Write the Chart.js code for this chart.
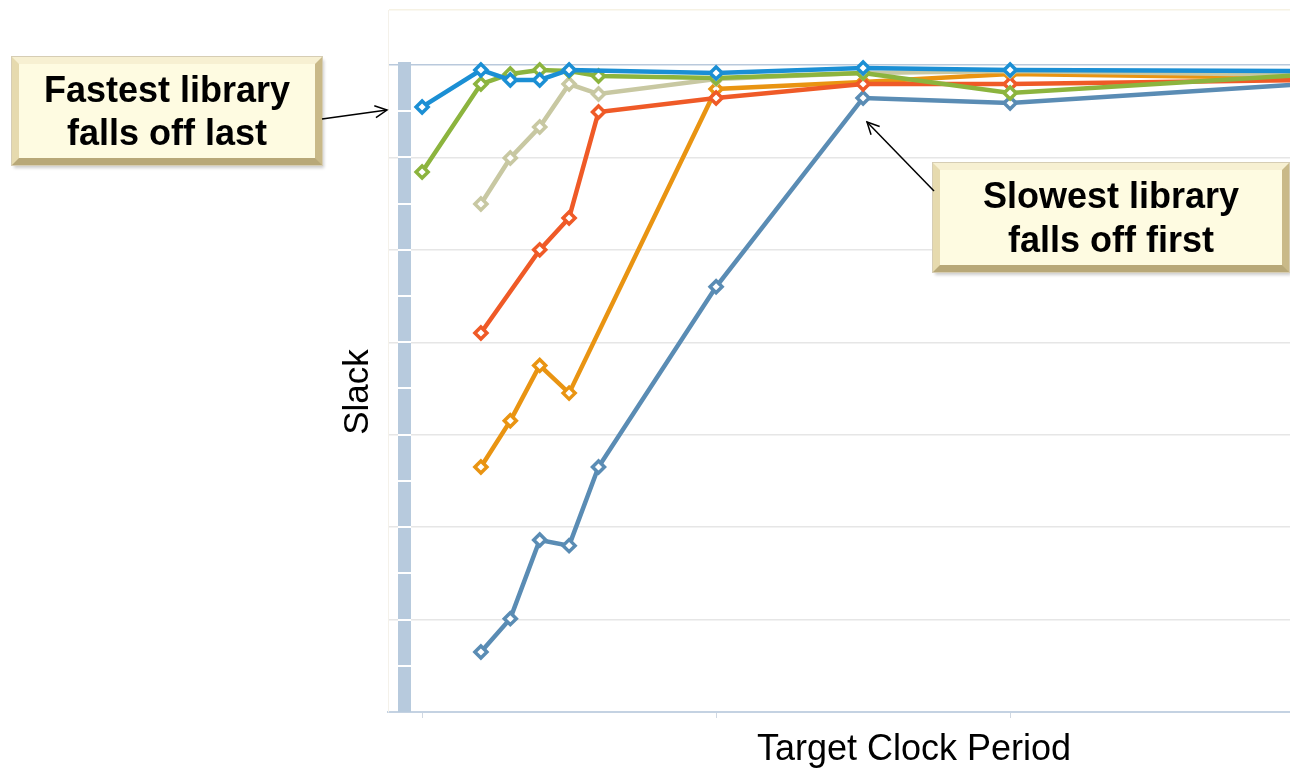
<!DOCTYPE html>
<html>
<head>
<meta charset="utf-8">
<script src="https://cdn.jsdelivr.net/npm/chart.js@4"></script>
<style>
    html, body { margin: 0; padding: 0; background: #fff; }
    #wrap { position: relative; width: 1290px; height: 770px; overflow: hidden; }
    #grafico { position: absolute; left: 0; top: 0; }
    .caixa {
        position: absolute;
        box-sizing: border-box;
        background: #fefbe1;
        border-style: solid;
        border-width: 7px;
        border-color: #f7f0d2 #c9b988 #b8a878 #e6daae;
        box-shadow: 0 0 0 1px #d6cdb4, 2px 3px 3px rgba(0,0,0,0.2);
        font-family: "Liberation Sans", Arial, sans-serif;
        font-weight: bold;
        font-size: 36px;
        color: #000;
        text-align: center;
        display: flex;
        flex-direction: column;
        justify-content: center;
    }
    #setas { position: absolute; left: 0; top: 0; }
</style>
</head>
<body>
<div id="wrap">
    <canvas id="grafico" width="1290" height="770"></canvas>
    <div class="caixa" style="left:12px; top:57px; width:310px; height:108px; line-height:43px;">
        <div>Fastest library</div><div>falls off last</div>
    </div>
    <div class="caixa" style="left:933px; top:163px; width:356px; height:109px; line-height:44px;">
        <div>Slowest library</div><div>falls off first</div>
    </div>
    <svg id="setas" width="1290" height="770">
        <defs>
            <marker id="ponta" markerWidth="16" markerHeight="16" refX="14" refY="8" orient="auto" markerUnits="userSpaceOnUse">
                <path d="M2,2 L14,8 L2,14" fill="none" stroke="#000" stroke-width="1.5"/>
            </marker>
        </defs>
        <line x1="322" y1="119" x2="387" y2="110" stroke="#000" stroke-width="1.5" marker-end="url(#ponta)"/>
        <line x1="934" y1="191" x2="867" y2="122" stroke="#000" stroke-width="1.5" marker-end="url(#ponta)"/>
    </svg>
</div>
<script>
// Dados (período no eixo x, folga no eixo y)
const xMin = 0.884;
const xMax = 3.952;
const yMin = -7;
const yMax = 0.595;

const periodosRapida = [1, 1.2, 1.3, 1.4, 1.5, 2, 2.5, 3, 4];
const folgaRapida = [-0.454, -0.054, -0.162, -0.162, -0.054, -0.087, -0.032, -0.054, -0.065];

const periodosVerde = [1, 1.2, 1.3, 1.4, 1.5, 1.6, 2, 2.5, 3, 4];
const folgaVerde = [-1.158, -0.206, -0.097, -0.054, -0.065, -0.119, -0.141, -0.087, -0.303, -0.108];

const periodosBege = [1.2, 1.3, 1.4, 1.5, 1.6, 2, 2.5, 3, 4];
const folgaBege = [-1.504, -1.006, -0.671, -0.206, -0.314, -0.151, -0.087, -0.065, -0.108];

const periodosVermelha = [1.2, 1.4, 1.5, 1.6, 2, 2.5, 3, 4];
const folgaVermelha = [-2.90, -2.00, -1.655, -0.508, -0.357, -0.206, -0.206, -0.162];

const periodosLaranja = [1.2, 1.3, 1.4, 1.5, 2, 2.5, 3, 4];
const folgaLaranja = [-4.35, -3.85, -3.25, -3.55, -0.26, -0.184, -0.097, -0.141];

const periodosLenta = [1.2, 1.3, 1.4, 1.5, 1.6, 2, 2.5, 3, 4];
const folgaLenta = [-6.35, -5.99, -5.14, -5.20, -4.35, -2.40, -0.357, -0.411, -0.206];

// Monta os pontos {x, y}
function pontos(xs, ys) {
    return xs.map((x, i) => ({ x: x, y: ys[i] }));
}

function serie(label, xs, ys, cor) {
    return {
        label: label,
        data: pontos(xs, ys),
        borderColor: cor,
        borderWidth: 4.5,
        pointStyle: 'rectRot',
        pointRadius: 6,
        pointBorderWidth: 3.5,
        pointBorderColor: cor,
        pointBackgroundColor: '#ffffff',
        tension: 0
    };
}

// Barra azul do eixo y e títulos dos eixos
const barraEixo = {
    id: 'barraEixo',
    afterDatasetsDraw(chart) {
        const ctx = chart.ctx;
        const y = chart.scales.y;
        const area = chart.chartArea;
        const topo = y.getPixelForValue(0) - 3;
        ctx.save();
        ctx.fillStyle = '#b7cadd';
        ctx.fillRect(area.left + 10, topo, 13, area.bottom - topo);
        ctx.strokeStyle = '#ffffff';
        ctx.lineWidth = 2;
        for (let v = -0.5; v > yMin; v -= 0.5) {
            const py = Math.round(y.getPixelForValue(v));
            ctx.beginPath();
            ctx.moveTo(area.left + 10, py);
            ctx.lineTo(area.left + 23, py);
            ctx.stroke();
        }
        ctx.restore();
    },
    afterDraw(chart) {
        const ctx = chart.ctx;
        const area = chart.chartArea;
        ctx.save();
        ctx.fillStyle = '#000';
        ctx.textAlign = 'center';
        ctx.textBaseline = 'middle';
        ctx.font = '35px "Liberation Sans", Arial, sans-serif';
        ctx.translate(area.left - 30, 392);
        ctx.rotate(-Math.PI / 2);
        ctx.fillText('Slack', 0, 0);
        ctx.restore();
        ctx.save();
        ctx.fillStyle = '#000';
        ctx.textAlign = 'center';
        ctx.textBaseline = 'middle';
        ctx.font = '36px "Liberation Sans", Arial, sans-serif';
        ctx.fillText('Target Clock Period', 914, area.bottom + 38);
        ctx.restore();
    }
};

const ctxGrafico = document.getElementById('grafico').getContext('2d');

new Chart(ctxGrafico, {
    type: 'line',
    data: {
        datasets: [
            serie('Fastest', periodosRapida, folgaRapida, '#1b8fd4'),
            serie('Fast', periodosVerde, folgaVerde, '#8cb43e'),
            serie('Medium', periodosBege, folgaBege, '#c8c8a2'),
            serie('Slow', periodosVermelha, folgaVermelha, '#ef5a27'),
            serie('Slower', periodosLaranja, folgaLaranja, '#e99412'),
            serie('Slowest', periodosLenta, folgaLenta, '#5a8cb4')
        ]
    },
    options: {
        responsive: false,
        animation: false,
        layout: { autoPadding: false, padding: { top: 10, right: 0, left: 0, bottom: 0 } },
        plugins: {
            legend: { display: false },
            tooltip: { enabled: false }
        },
        scales: {
            x: {
                type: 'linear',
                min: xMin,
                max: xMax,
                ticks: { display: false, stepSize: 1, includeBounds: false },
                grid: { drawOnChartArea: false, drawTicks: true, tickLength: 6, color: '#d0d8e2' },
                border: { display: true, color: '#c4d2e2', width: 2 },
                afterFit(scale) { scale.height = 58; }
            },
            y: {
                min: yMin,
                max: yMax,
                ticks: { display: false, stepSize: 1 },
                grid: {
                    drawTicks: false,
                    lineWidth: 1.5,
                    color: (c) => {
                        if (c.tick.value === 0) return '#b9c9dc';
                        if (c.tick.value === yMax) return '#f6f2e4';
                        return '#e6e6e6';
                    }
                },
                border: { display: true, color: '#f4f1ea', width: 1 },
                afterFit(scale) { scale.width = 388; }
            }
        }
    },
    plugins: [barraEixo]
});
</script>
</body>
</html>
